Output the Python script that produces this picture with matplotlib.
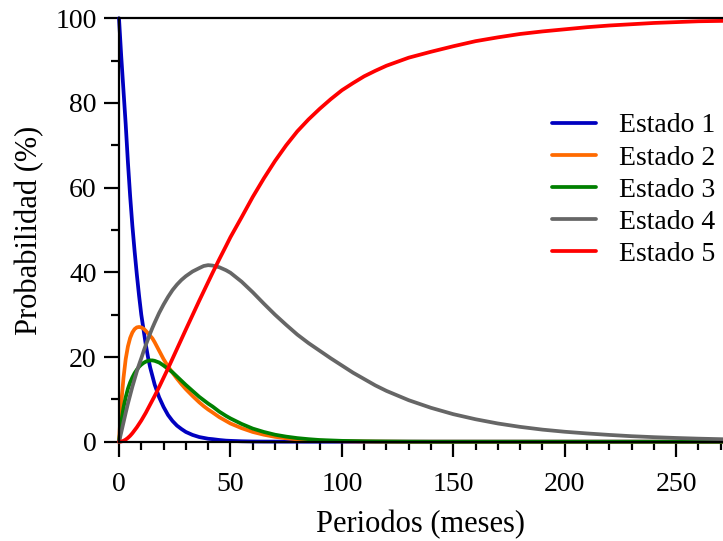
import matplotlib
matplotlib.use("Agg")
import matplotlib.pyplot as plt
from matplotlib.ticker import MultipleLocator

# periodos (meses)
periodos = [0, 1, 2, 3, 4, 5, 6, 7, 8, 9, 10, 11, 12, 13, 14, 15, 16, 18, 20, 22,
            24, 26, 28, 30, 33, 36, 38, 40, 42, 45, 48, 50, 55, 60, 65, 70, 75, 80,
            85, 90, 95, 100, 105, 110, 115, 120, 130, 140, 150, 160, 170, 180, 190,
            200, 210, 220, 230, 240, 250, 260, 272]

# probabilidad (%) de cada estado
estado_1 = [100, 91, 83, 75, 66, 58, 51, 45, 39.5, 34.5, 30, 26.5, 23, 20, 17.5, 15.5,
            13.5, 10.5, 8.2, 6.3, 4.9, 3.8, 3.0, 2.3, 1.6, 1.1, 0.9, 0.7, 0.6, 0.4,
            0.25, 0.2, 0.1, 0.05, 0.03, 0.02, 0.01, 0.01, 0, 0, 0, 0, 0, 0, 0, 0,
            0, 0, 0, 0, 0, 0, 0, 0, 0, 0, 0, 0, 0, 0, 0]
estado_2 = [0, 9, 15, 19.5, 22.5, 24.5, 25.8, 26.6, 27.0, 27.1, 27.0, 26.7, 26.2, 25.6,
            25.0, 24.4, 23.5, 21.5, 19.5, 17.8, 16.3, 14.9, 13.6, 12.4, 10.8, 9.3,
            8.4, 7.6, 6.9, 5.8, 4.9, 4.3, 3.2, 2.3, 1.65, 1.15, 0.8, 0.55, 0.4, 0.25,
            0.15, 0.1, 0.07, 0.05, 0.03, 0.02, 0, 0, 0, 0, 0, 0, 0, 0, 0, 0, 0, 0,
            0, 0, 0]
estado_3 = [0, 4.5, 8, 10.5, 12.5, 14, 15.2, 16.2, 17, 17.7, 18.2, 18.6, 18.9, 19.1,
            19.2, 19.2, 19.1, 18.7, 18.0, 17.2, 16.4, 15.4, 14.4, 13.4, 12.0, 10.6,
            9.8, 9.0, 8.3, 7.1, 6.1, 5.5, 4.2, 3.1, 2.3, 1.65, 1.2, 0.85, 0.6, 0.4,
            0.3, 0.2, 0.15, 0.1, 0.07, 0.05, 0.02, 0, 0, 0, 0, 0, 0, 0, 0, 0, 0, 0,
            0, 0, 0]
estado_4 = [0, 2.2, 4.5, 6.8, 9, 11, 13, 14.8, 16.6, 18.2, 19.7, 21.3, 22.8, 24.2,
            25.6, 26.9, 28.1, 30.4, 32.4, 34.2, 35.8, 37.1, 38.2, 39.1, 40.2, 41.0,
            41.5, 41.7, 41.6, 41.2, 40.5, 39.9, 37.8, 35.3, 32.6, 30.0, 27.6, 25.3,
            23.3, 21.5, 19.7, 18.0, 16.3, 14.8, 13.3, 12.0, 9.8, 8.0, 6.5, 5.3, 4.3,
            3.5, 2.85, 2.35, 1.95, 1.6, 1.3, 1.07, 0.88, 0.72, 0.57]
estado_5 = [0, 0.05, 0.2, 0.5, 0.9, 1.4, 2.0, 2.7, 3.4, 4.2, 5.0, 5.9, 6.8, 7.8, 8.8,
            9.8, 10.8, 12.9, 15.1, 17.3, 19.6, 21.9, 24.2, 26.5, 29.9, 33.3, 35.5,
            37.7, 39.9, 43.1, 46.2, 48.3, 53.0, 57.8, 62.2, 66.3, 70.0, 73.3, 76.1,
            78.6, 80.9, 83.0, 84.7, 86.3, 87.6, 88.8, 90.7, 92.1, 93.4, 94.6, 95.5,
            96.3, 96.9, 97.4, 97.9, 98.3, 98.6, 98.9, 99.1, 99.3, 99.4]

series = [estado_1, estado_2, estado_3, estado_4, estado_5]
labels = ["Estado 1", "Estado 2", "Estado 3", "Estado 4", "Estado 5"]
colors = ["#0000c0", "#ff6a00", "#008000", "#666666", "#ff0000"]

plt.rcParams["font.family"] = ["Liberation Serif", "DejaVu Serif"]

fig = plt.figure(figsize=(7.23, 5.41), dpi=100)
ax = fig.add_axes([119 / 723, 99.3 / 541, 1 - 119 / 723, (441.7 - 18.3) / 541])

for vals, lab, col in zip(series, labels, colors):
    ax.plot(periodos, vals, color=col, linewidth=2.7, label=lab,
            solid_capstyle="round", solid_joinstyle="round", clip_on=False)

ax.set_xlim(0, 271)
ax.set_ylim(0, 100)
ax.xaxis.set_major_locator(MultipleLocator(50))
ax.xaxis.set_minor_locator(MultipleLocator(10))
ax.yaxis.set_major_locator(MultipleLocator(20))
ax.yaxis.set_minor_locator(MultipleLocator(10))

ax.spines["right"].set_visible(False)
for s in ["left", "bottom", "top"]:
    ax.spines[s].set_linewidth(1.6)

ax.tick_params(which="major", direction="out", length=11, width=1.6,
               labelsize=20, pad=5)
ax.tick_params(which="minor", direction="out", length=5.5, width=1.6)
ax.tick_params(axis="x", which="major", pad=11)
ax.tick_params(top=False, right=False, which="both")

ax.set_xlabel("Periodos (meses)", fontsize=22, labelpad=9)
ax.set_ylabel("Probabilidad (%)", fontsize=22, labelpad=8)

ax.legend(loc="upper left", bbox_to_anchor=(552 / 723, 1 - 113 / 541),
          bbox_transform=fig.transFigure, frameon=False, fontsize=20,
          handlelength=1.6, handletextpad=0.8, labelspacing=0.24, borderpad=0,
          borderaxespad=0)

fig.savefig("out.png", dpi=100)
